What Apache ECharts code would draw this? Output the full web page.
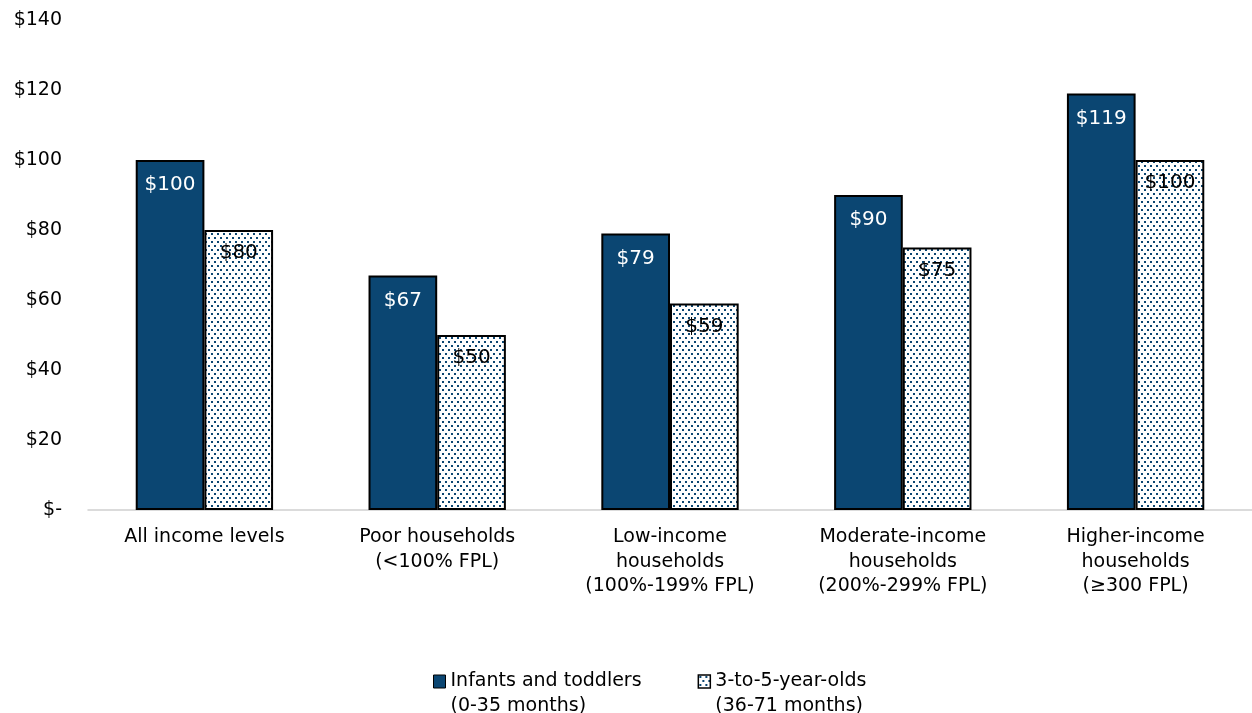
<!DOCTYPE html>
<html>
<head>
<meta charset="utf-8">
<script src="https://cdn.jsdelivr.net/npm/echarts@6/dist/echarts.min.js"></script>
<style>
  html, body { margin: 0; padding: 0; background: #fff; }
  #chart { width: 1252px; height: 713px; }
</style>
</head>
<body>
<div id="chart"></div>
<script>
// chart data
const categories = [
  'All income levels',
  'Poor households\n(<100% FPL)',
  'Low-income\nhouseholds\n(100%-199% FPL)',
  'Moderate-income\nhouseholds\n(200%-299% FPL)',
  'Higher-income\nhouseholds\n(\u2265300 FPL)'
];
const infantsName = 'Infants and toddlers\n(0-35 months)';
const preschoolName = '3-to-5-year-olds\n(36-71 months)';
const infantsValues = [100, 67, 79, 90, 119];
const preschoolValues = [80, 50, 59, 75, 100];

const FONT = '"DejaVu Sans", sans-serif';
const BLUE = '#0b4672';

// dotted fill for the 3-to-5 series
function makeDots() {
  const c = document.createElement('canvas');
  c.width = 6; c.height = 8;
  const ctx = c.getContext('2d');
  ctx.fillStyle = '#fff';
  ctx.fillRect(0, 0, 6, 8);
  ctx.fillStyle = BLUE;
  ctx.fillRect(1, 1, 2, 2);
  ctx.fillRect(4, 5, 2, 2);
  return c;
}
const dots = { image: makeDots(), repeat: 'repeat' };

const chart = echarts.init(document.getElementById('chart'));
chart.setOption({
  animation: false,
  textStyle: { fontFamily: FONT },
  grid: { left: 88, right: 0, top: 20, bottom: 203 },
  legend: {
    top: 639,
    left: 428,
    icon: 'rect',
    itemWidth: 12,
    itemHeight: 13,
    itemGap: 56,
    // leading blank line keeps the icon level with the first text line
    formatter: name => '\n' + name,
    textStyle: { fontSize: 19, color: '#000', fontFamily: FONT, lineHeight: 25 },
    data: [
      { name: infantsName, itemStyle: { color: BLUE, borderColor: '#000', borderWidth: 1 } },
      { name: preschoolName, itemStyle: { color: dots, borderColor: '#000', borderWidth: 1.5 } }
    ]
  },
  xAxis: {
    type: 'category',
    data: categories,
    axisLine: { lineStyle: { color: '#d0d0d0', width: 1.5 } },
    axisTick: { show: false },
    axisLabel: { color: '#000', fontSize: 19, lineHeight: 24.5, margin: 15 }
  },
  yAxis: {
    type: 'value',
    min: 0, max: 140, interval: 20,
    splitLine: { show: false },
    axisLine: { show: false },
    axisTick: { show: false },
    axisLabel: {
      color: '#000', fontSize: 19, margin: 26,
      formatter: v => v === 0 ? '$-' : '$' + v
    }
  },
  series: [
    {
      name: infantsName,
      type: 'bar',
      data: infantsValues,
      barGap: '0%',
      barCategoryGap: '41%',
      itemStyle: { color: BLUE, borderColor: '#000', borderWidth: 2 },
      label: {
        show: true, position: 'insideTop', distance: 15,
        color: '#fff', fontSize: 20, formatter: p => '$' + p.value
      }
    },
    {
      name: preschoolName,
      type: 'bar',
      data: preschoolValues,
      itemStyle: { color: dots, borderColor: '#000', borderWidth: 2 },
      label: {
        show: true, position: 'insideTop', distance: 13,
        color: '#000', fontSize: 20, formatter: p => '$' + p.value
      }
    }
  ]
});
</script>
</body>
</html>
